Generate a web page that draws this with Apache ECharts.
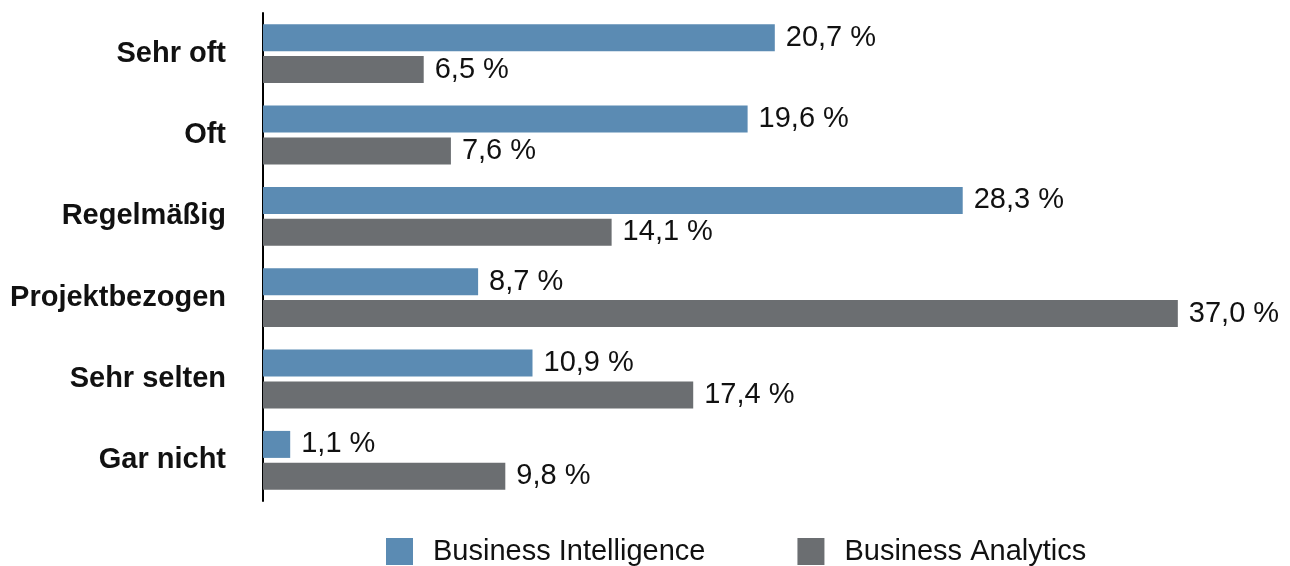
<!DOCTYPE html>
<html><head><meta charset="utf-8">
<script src="https://cdn.jsdelivr.net/npm/echarts@6/dist/echarts.min.js"></script>
<style>html,body{margin:0;padding:0;background:#fff}#c{width:1290px;height:566px}</style>
</head><body><div id="c"></div>
<script>
const categories = ['Sehr oft','Oft','Regelmäßig','Projektbezogen','Sehr selten','Gar nicht'];
const seriesNames = ['Business Intelligence','Business Analytics'];
const biValues = [20.7, 19.6, 28.3, 8.7, 10.9, 1.1];
const baValues = [6.5, 7.6, 14.1, 37.0, 17.4, 9.8];
const colors = ['#5b8bb3', '#6b6e71'];
const fmt = p => p.value.toFixed(1).replace('.', ',') + ' %';
const font = '"Liberation Sans", Arial, sans-serif';
const chart = echarts.init(document.getElementById('c'), null, {renderer:'canvas'});
const mk = (name, data, color) => ({
  name, type:'bar', data, barWidth:27, barGap:'18%', barCategoryGap:'28%',
  itemStyle:{color},
  label:{show:true, position:'right', distance:11, formatter:fmt, color:'#111', fontSize:29, fontFamily:font, padding:[5,0,0,0]}
});
chart.setOption({
  animation:false,
  textStyle:{fontFamily:font},
  grid:{left:263, top:13, height:488, width:989},
  xAxis:{type:'value', min:0, max:40, show:false},
  yAxis:{type:'category', data:categories, inverse:true,
    axisLine:{show:true, lineStyle:{color:'#000', width:2}},
    axisTick:{show:false},
    axisLabel:{margin:37, fontSize:29, fontWeight:'bold', color:'#111', fontFamily:font}},
  legend:{data:seriesNames, bottom:-5, left:381, itemWidth:27, itemHeight:27, itemGap:92,
    icon:'rect', textStyle:{fontSize:29, color:'#111', fontFamily:font, padding:[0,0,0,15]}},
  series:[mk(seriesNames[0], biValues, colors[0]), mk(seriesNames[1], baValues, colors[1])]
});
</script></body></html>
